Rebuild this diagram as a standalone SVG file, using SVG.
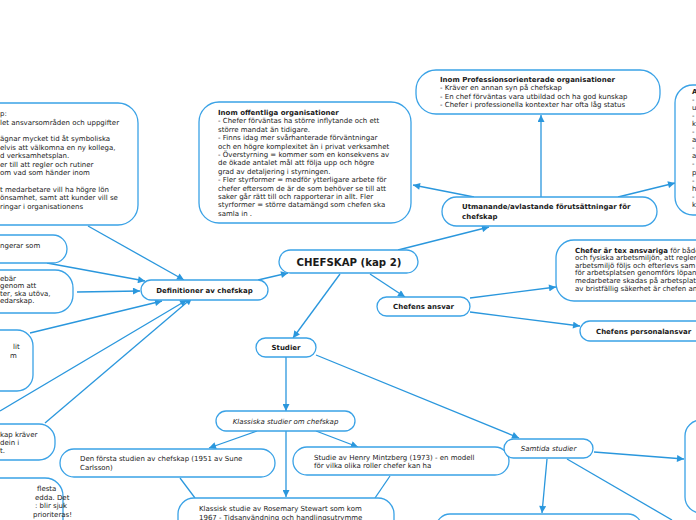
<svg xmlns="http://www.w3.org/2000/svg" width="696" height="520" viewBox="0 0 696 520">
<defs>
<style>
.b{fill:#fff;stroke:#3aa2e6;stroke-width:1.3}
.c{fill:none;stroke:#2a97dd;stroke-width:1.3}
.t{font-family:"DejaVu Sans",Verdana,sans-serif;font-size:7px;fill:#1a1a1a}
.bd{font-weight:bold}
.it{font-style:italic}
.m{text-anchor:middle}
</style>
<marker id="a" viewBox="0 0 10 10" refX="10" refY="5" markerWidth="8" markerHeight="7" markerUnits="userSpaceOnUse" orient="auto">
<path d="M0,0 L10,5 L0,10 z" fill="#2a97dd"/>
</marker>
</defs>
<rect width="696" height="520" fill="#fff"/>
<g id="connectors">
<line class="c" x1="258" y1="280" x2="288" y2="273" marker-end="url(#a)"/>
<line class="c" x1="398" y1="250" x2="489" y2="227" marker-end="url(#a)"/>
<line class="c" x1="370" y1="274" x2="405" y2="297" marker-end="url(#a)"/>
<line class="c" x1="340" y1="274" x2="293" y2="338" marker-end="url(#a)"/>
<line class="c" x1="474" y1="197" x2="413" y2="185" marker-end="url(#a)"/>
<line class="c" x1="541" y1="197" x2="541" y2="115" marker-end="url(#a)"/>
<line class="c" x1="618" y1="197" x2="675" y2="183" marker-end="url(#a)"/>
<line class="c" x1="470" y1="298" x2="556" y2="287" marker-end="url(#a)"/>
<line class="c" x1="470" y1="312" x2="580" y2="326" marker-end="url(#a)"/>
<line class="c" x1="286" y1="357" x2="286" y2="411" marker-end="url(#a)"/>
<line class="c" x1="316" y1="355" x2="519" y2="438" marker-end="url(#a)"/>
<line class="c" x1="257" y1="431" x2="209" y2="448" marker-end="url(#a)"/>
<line class="c" x1="316" y1="431" x2="358" y2="447" marker-end="url(#a)"/>
<line class="c" x1="286" y1="431" x2="286" y2="497" marker-end="url(#a)"/>
<line class="c" x1="180" y1="478" x2="195" y2="498"/>
<line class="c" x1="390" y1="476" x2="375" y2="498"/>
<line class="c" x1="594" y1="452" x2="684" y2="459" marker-end="url(#a)"/>
<line class="c" x1="547" y1="459" x2="542" y2="513" marker-end="url(#a)"/>
<line class="c" x1="567" y1="459" x2="672" y2="520"/>
<line class="c" x1="88" y1="226" x2="184" y2="280" marker-end="url(#a)"/>
<line class="c" x1="47" y1="263" x2="145" y2="281" marker-end="url(#a)"/>
<line class="c" x1="77" y1="292" x2="140" y2="291" marker-end="url(#a)"/>
<line class="c" x1="30" y1="333" x2="162" y2="301" marker-end="url(#a)"/>
<line class="c" x1="0" y1="411" x2="187" y2="300" marker-end="url(#a)"/>
<line class="c" x1="45" y1="423" x2="192" y2="298" marker-end="url(#a)"/>
</g>
<g id="n-center">
<rect class="b" x="279" y="250" width="139" height="23" rx="11.5"/>
<text class="t bd m" x="349" y="265.5" style="font-size:10.2px">CHEFSKAP (kap 2)</text>
</g>
<g id="n-def">
<rect class="b" x="141" y="280" width="127" height="20" rx="10"/>
<text class="t bd m" x="204.5" y="292.5">Definitioner av chefskap</text>
</g>
<g id="n-utm">
<rect class="b" x="442" y="197" width="215" height="29" rx="14.5"/>
<text class="t bd" x="462" y="209">Utmanande/avlastande förutsättningar för</text>
<text class="t bd" x="462" y="219">chefskap</text>
</g>
<g id="n-off">
<rect class="b" x="199" y="102" width="212" height="121" rx="20"/>
<text class="t" x="218">
<tspan class="bd" x="218" y="115">Inom offentliga organisationer</tspan>
<tspan x="218" y="123.4">- Chefer förväntas ha större inflytande och ett</tspan>
<tspan x="218" y="131.8">större mandat än tidigare.</tspan>
<tspan x="218" y="140.2">- Finns idag mer svårhanterade förväntningar</tspan>
<tspan x="218" y="148.6">och en högre komplexitet än i privat verksamhet</tspan>
<tspan x="218" y="157">- Överstyrning = kommer som en konsekvens av</tspan>
<tspan x="218" y="165.4">de ökade antalet mål att följa upp och högre</tspan>
<tspan x="218" y="173.8">grad av detaljering i styrningen.</tspan>
<tspan x="218" y="182.2">- Fler styrformer = medför ytterligare arbete för</tspan>
<tspan x="218" y="190.6">chefer eftersom de är de som behöver se till att</tspan>
<tspan x="218" y="199">saker går rätt till och rapporterar in allt. Fler</tspan>
<tspan x="218" y="207.4">styrformer = större datamängd som chefen ska</tspan>
<tspan x="218" y="215.8">samla in .</tspan>
</text>
</g>
<g id="n-prof">
<rect class="b" x="416" y="70" width="244" height="44" rx="20"/>
<text class="t">
<tspan class="bd" x="440" y="81.5">Inom Professionsorienterade organisationer</tspan>
<tspan x="440" y="90">- Kräver en annan syn på chefskap</tspan>
<tspan x="440" y="98.5">- En chef förväntas vara utbildad och ha god kunskap</tspan>
<tspan x="440" y="107">- Chefer i professionella kontexter har ofta låg status</tspan>
</text>
</g>
<g id="n-right">
<rect class="b" x="675" y="85" width="120" height="130" rx="18"/>
<text class="t">
<tspan class="bd" x="692" y="93.5">A</tspan>
<tspan x="692" y="101.6">-</tspan>
<tspan x="692" y="109.7">u</tspan>
<tspan x="692" y="117.8">-</tspan>
<tspan x="692" y="125.9">k</tspan>
<tspan x="692" y="134">-</tspan>
<tspan x="692" y="142.1">a</tspan>
<tspan x="692" y="150.2">-</tspan>
<tspan x="692" y="158.3">a</tspan>
<tspan x="692" y="166.4">-</tspan>
<tspan x="692" y="174.5">p</tspan>
<tspan x="692" y="182.6">-</tspan>
<tspan x="692" y="190.7">h</tspan>
<tspan x="692" y="198.8">-</tspan>
<tspan x="692" y="206.9">k</tspan>
</text>
</g>
<g id="n-ansvar">
<rect class="b" x="377" y="297" width="93" height="19" rx="9.5"/>
<text class="t bd m" x="423.5" y="309">Chefens ansvar</text>
</g>
<g id="n-chefer">
<rect class="b" x="556" y="240" width="200" height="61" rx="18"/>
<text class="t">
<tspan x="575" y="252.5"><tspan class="bd">Chefer är tex ansvariga</tspan> för både</tspan>
<tspan x="575" y="260.1">och fysiska arbetsmiljön, att regler</tspan>
<tspan x="575" y="267.7">arbetsmiljö följs och efterlevs sam</tspan>
<tspan x="575" y="275.3">för arbetsplatsen genomförs löpan</tspan>
<tspan x="575" y="282.9">medarbetare skadas på arbetsplat</tspan>
<tspan x="575" y="290.5">av bristfällig säkerhet är chefen an</tspan>
</text>
</g>
<g id="n-personal">
<rect class="b" x="580" y="321" width="150" height="20" rx="10"/>
<text class="t bd" x="596" y="333.5">Chefens personalansvar</text>
</g>
<g id="n-studier">
<rect class="b" x="256" y="338" width="60" height="19" rx="9.5"/>
<text class="t bd m" x="286" y="350">Studier</text>
</g>
<g id="n-klassiska">
<rect class="b" x="216" y="411" width="139" height="20" rx="10"/>
<text class="t it m" x="285.5" y="423.5">Klassiska studier om chefskap</text>
</g>
<g id="n-forsta">
<rect class="b" x="60" y="449" width="215" height="28" rx="14"/>
<text class="t">
<tspan x="80" y="461">Den första studien av chefskap (1951 av Sune</tspan>
<tspan x="80" y="469.5">Carlsson)</tspan>
</text>
</g>
<g id="n-mintzberg">
<rect class="b" x="293" y="447" width="216" height="28" rx="14"/>
<text class="t">
<tspan x="314" y="459.5">Studie av Henry Mintzberg (1973) - en modell</tspan>
<tspan x="314" y="468">för vilka olika roller chefer kan ha</tspan>
</text>
</g>
<g id="n-stewart">
<rect class="b" x="178" y="498" width="216" height="40" rx="16"/>
<text class="t">
<tspan x="199" y="511">Klassisk studie av Rosemary Stewart som kom</tspan>
<tspan x="199" y="519.5">1967 - Tidsanvändning och handlingsutrymme</tspan>
</text>
</g>
<g id="n-samtida">
<rect class="b" x="504" y="439" width="89" height="19" rx="9.5"/>
<text class="t it m" x="548.5" y="451">Samtida studier</text>
</g>
<g id="n-samtida-r">
<rect class="b" x="685" y="420" width="100" height="93" rx="16"/>
</g>
<g id="n-samtida-b">
<rect class="b" x="436" y="514" width="206" height="30" rx="14"/>
</g>
<g id="n-l1">
<rect class="b" x="-120" y="103" width="258" height="122" rx="20"/>
<text class="t">
<tspan x="0" y="116">p:</tspan>
<tspan x="0" y="124.5">let ansvarsområden och uppgifter</tspan>
<tspan x="0" y="141">ägnar mycket tid åt symboliska</tspan>
<tspan x="0" y="149.5">elvis att välkomna en ny kollega,</tspan>
<tspan x="0" y="158">d verksamhetsplan.</tspan>
<tspan x="0" y="166.5">er till att regler och rutiner</tspan>
<tspan x="0" y="175">om vad som händer inom</tspan>
<tspan x="0" y="191.5">t medarbetare vill ha högre lön</tspan>
<tspan x="0" y="200">önsamhet, samt att kunder vill se</tspan>
<tspan x="0" y="208.5">ringar i organisationens</tspan>
</text>
</g>
<g id="n-l2">
<rect class="b" x="-120" y="235" width="187" height="28" rx="14"/>
<text class="t" x="0" y="247.5">ngerar som</text>
</g>
<g id="n-l3">
<rect class="b" x="-120" y="270" width="193" height="43" rx="18"/>
<text class="t">
<tspan x="0" y="280.5">ebär</tspan>
<tspan x="0" y="288">genom att</tspan>
<tspan x="0" y="295.5">ter, ska utöva,</tspan>
<tspan x="0" y="303">edarskap.</tspan>
</text>
</g>
<g id="n-l4">
<rect class="b" x="-120" y="330" width="153" height="61" rx="16"/>
<text class="t">
<tspan x="13" y="349">lit</tspan>
<tspan x="10" y="358">m</tspan>
</text>
</g>
<g id="n-l5">
<rect class="b" x="-120" y="424" width="175" height="36" rx="16"/>
<text class="t">
<tspan x="0" y="437">kap kräver</tspan>
<tspan x="0" y="445">dein i</tspan>
<tspan x="0" y="453">t.</tspan>
</text>
</g>
<g id="n-l6">
<rect class="b" x="-120" y="478" width="183" height="70" rx="18"/>
<text class="t">
<tspan x="37" y="491">flesta</tspan>
<tspan x="35" y="499.5">edda. Det</tspan>
<tspan x="35" y="508">: blir sjuk</tspan>
<tspan x="33" y="516.5">prioriteras!</tspan>
</text>
</g>
</svg>
